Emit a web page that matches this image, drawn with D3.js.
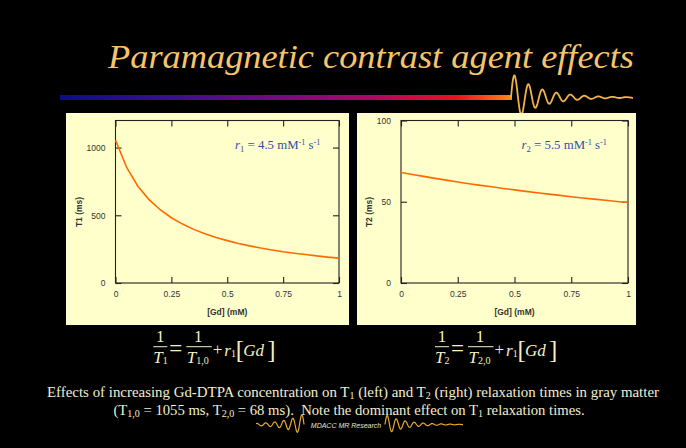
<!DOCTYPE html>
<html>
<head>
<meta charset="utf-8">
<script src="https://cdn.jsdelivr.net/npm/d3@7"></script>
<style>
html,body{margin:0;padding:0;background:#000;}
svg{display:block;}
</style>
</head>
<body>
<svg id="c" width="686" height="448"></svg>
<script>
// ---- data ----
const gdConc = [0,0.05,0.1,0.15,0.2,0.25,0.3,0.35,0.4,0.45,0.5,0.55,0.6,0.65,0.7,0.75,0.8,0.85,0.9,0.95,1.0];
const t1Values = [1055,853,715,616,541,482,435,396,364,336,313,292,274,258,244,231,220,210,200,191,184];
const t2Values = [68,66.8,65.6,64.4,63.3,62.2,61.1,60.1,59.2,58.2,57.3,56.4,55.5,54.7,53.9,53.1,52.3,51.6,50.9,50.2,49.5];
const xTicks = [0,0.25,0.5,0.75,1];
const xTickLabels = ["0","0.25","0.5","0.75","1"];
const t1Ticks = [0,500,1000];
const t2Ticks = [0,50,100];
const t1Domain = [0,1200];
const t2Domain = [0,100];

const svg = d3.select("#c");
svg.append("rect").attr("width",686).attr("height",448).attr("fill","#000");

// ---- title ----
svg.append("text").attr("x",108).attr("y",68)
  .attr("font-family","'Liberation Serif','Times New Roman',serif")
  .attr("font-style","italic").attr("font-size",34.5)
  .attr("fill","#f5c46c").attr("textLength",526).attr("lengthAdjust","spacingAndGlyphs")
  .text("Paramagnetic contrast agent effects");

// gradient bar
const defs = svg.append("defs");
const grad = defs.append("linearGradient").attr("id","bar").attr("x1","0").attr("x2","1");
[["0","#0c0c88"],["0.25","#3a0f8e"],["0.5","#7a0a80"],["0.7","#b00860"],["0.88","#ee1020"],["1","#ff8a10"]]
  .forEach(s=>grad.append("stop").attr("offset",s[0]).attr("stop-color",s[1]));
svg.append("rect").attr("x",60).attr("y",95).attr("width",452).attr("height",5).attr("fill","url(#bar)");

// decorative damped waves
function dampedWave(x0, len, base, amp, period, decay, mirror){
  const pts=[];
  for(let t=0;t<=len;t+=0.5){
    const a = amp*Math.exp(-decay*t);
    const y = base - a*Math.sin(2*Math.PI*t/period);
    pts.push([mirror ? x0 - t : x0 + t, y]);
  }
  return d3.line()(pts);
}
svg.append("path").attr("d",dampedWave(511,122,97.5,25,14,0.036,false))
  .attr("fill","none").attr("stroke","#f2b24a").attr("stroke-width",1.8);

// ---- panels ----
function panel(opt){
  const g = svg.append("g");
  g.append("rect").attr("x",opt.px).attr("y",113).attr("width",opt.pw).attr("height",212).attr("fill","#ffffcc");
  const x = d3.scaleLinear().domain([0,1]).range([opt.l,opt.r]);
  const y = d3.scaleLinear().domain(opt.domain).range([283,120.5]);
  const font = "'Liberation Sans',Arial,sans-serif";
  const ax = [
    g.append("g").attr("transform",`translate(0,283)`).call(d3.axisBottom(x).tickValues(xTicks).tickFormat((d,i)=>xTickLabels[i]).tickSize(-6).tickSizeOuter(0).tickPadding(8)),
    g.append("g").attr("transform",`translate(0,120.5)`).call(d3.axisTop(x).tickValues(xTicks).tickFormat("").tickSize(-6).tickSizeOuter(0)),
    g.append("g").attr("transform",`translate(${opt.l},0)`).call(d3.axisLeft(y).tickValues(opt.ticks).tickFormat(d3.format("d")).tickSize(-6).tickSizeOuter(0).tickPadding(10)),
    g.append("g").attr("transform",`translate(${opt.r},0)`).call(d3.axisRight(y).tickValues(opt.ticks).tickFormat("").tickSize(-6).tickSizeOuter(0))
  ];
  ax.forEach(a=>{
    a.select(".domain").remove();
    a.selectAll("line").attr("stroke","#222").attr("stroke-width",1.1);
    a.selectAll("text").attr("font-family",font).attr("font-size",8.5).attr("fill","#333");
  });
  g.append("rect").attr("x",opt.l).attr("y",120.5).attr("width",opt.r-opt.l).attr("height",283-120.5)
    .attr("fill","none").attr("stroke","#222").attr("stroke-width",1.1);
  g.append("path").datum(gdConc.map((c,i)=>[c,opt.values[i]]))
    .attr("d",d3.line().x(d=>x(d[0])).y(d=>y(d[1])))
    .attr("fill","none").attr("stroke","#ff6a00").attr("stroke-width",1.6);
  g.append("text").attr("x",(opt.l+opt.r)/2).attr("y",315).attr("text-anchor","middle")
    .attr("font-family",font).attr("font-weight","bold").attr("font-size",8.5).attr("fill","#333").text("[Gd] (mM)");
  g.append("text").attr("transform",`translate(${opt.yl},${212}) rotate(-90)`).attr("text-anchor","middle")
    .attr("font-family",font).attr("font-weight","bold").attr("font-size",8.5).attr("fill","#333").text(opt.ylabel);
  const t = g.append("text").attr("x",opt.ax).attr("y",149)
    .attr("font-family","'Liberation Serif','Times New Roman',serif").attr("font-size",12.8).attr("fill","#2f4fa8");
  t.append("tspan").attr("font-style","italic").text("r");
  t.append("tspan").attr("font-size",8.8).attr("dy",2.5).text(opt.sub);
  t.append("tspan").attr("dy",-2.5).text(" = " + opt.rate + " mM");
  t.append("tspan").attr("font-size",8.2).attr("dy",-4.5).text("-1");
  t.append("tspan").attr("dy",4.5).text(" s");
  t.append("tspan").attr("font-size",8.2).attr("dy",-4.5).text("-1");
}
panel({px:66,pw:283,l:115.5,r:339,domain:t1Domain,ticks:t1Ticks,values:t1Values,ylabel:"T1 (ms)",yl:81.5,ax:235,sub:"1",rate:"4.5"});
panel({px:357,pw:279,l:401,r:628,domain:t2Domain,ticks:t2Ticks,values:t2Values,ylabel:"T2 (ms)",yl:371.5,ax:521.5,sub:"2",rate:"5.5"});

// ---- formulas ----
function formula(x0, n, sub0){
  const serif = "'Liberation Serif','Times New Roman',serif";
  const col = "#f5efc2";
  const g = svg.append("g").attr("fill",col).attr("font-family",serif);
  const fs = 17;
  g.append("text").attr("x",x0+7).attr("y",342).attr("text-anchor","middle").attr("font-size",fs).text("1");
  g.append("rect").attr("x",x0).attr("y",346.2).attr("width",14).attr("height",1).attr("fill",col);
  let t = g.append("text").attr("x",x0).attr("y",362.5).attr("font-size",fs);
  t.append("tspan").attr("font-style","italic").text("T");
  t.append("tspan").attr("font-size",10).attr("dy",1.5).text(n);
  g.append("text").attr("x",x0+16).attr("y",355.5).attr("font-size",23).text("=");
  g.append("text").attr("x",x0+45).attr("y",342).attr("text-anchor","middle").attr("font-size",fs).text("1");
  g.append("rect").attr("x",x0+33).attr("y",346.2).attr("width",25.5).attr("height",1).attr("fill",col);
  t = g.append("text").attr("x",x0+33.5).attr("y",362.5).attr("font-size",fs);
  t.append("tspan").attr("font-style","italic").text("T");
  t.append("tspan").attr("font-size",10).attr("dy",1.5).text(sub0);
  g.append("text").attr("x",x0+59.5).attr("y",355).attr("font-size",fs).text("+");
  t = g.append("text").attr("x",x0+71).attr("y",355.5).attr("font-size",fs);
  t.append("tspan").attr("font-style","italic").text("r");
  t.append("tspan").attr("font-size",10).attr("dy",1.5).text("1");
  g.append("text").attr("x",x0+82.5).attr("y",357.5).attr("font-size",25).text("[");
  g.append("text").attr("x",x0+90).attr("y",355.5).attr("font-size",fs).attr("font-style","italic").text("Gd");
  g.append("text").attr("x",x0+114).attr("y",357.5).attr("font-size",25).text("]");
}
formula(153.3,"1","1,0");
formula(435,"2","2,0");

// ---- caption ----
const serif = "'Liberation Serif','Times New Roman',serif";
const cap = "#f2eed0";
let c1 = svg.append("text").attr("x",353).attr("y",396.5).attr("text-anchor","middle")
  .attr("font-family",serif).attr("font-size",14.9).attr("fill",cap);
c1.append("tspan").text("Effects of increasing Gd-DTPA concentration on T");
c1.append("tspan").attr("font-size",10).attr("dy",2.5).text("1");
c1.append("tspan").attr("dy",-2.5).text(" (left) and T");
c1.append("tspan").attr("font-size",10).attr("dy",2.5).text("2");
c1.append("tspan").attr("dy",-2.5).text(" (right) relaxation times in gray matter");

let c2 = svg.append("text").attr("x",349).attr("y",414.5).attr("text-anchor","middle")
  .attr("font-family",serif).attr("font-size",14.7).attr("fill",cap);
c2.append("tspan").text("(T");
c2.append("tspan").attr("font-size",10).attr("dy",2.5).text("1,0");
c2.append("tspan").attr("dy",-2.5).text(" = 1055 ms, T");
c2.append("tspan").attr("font-size",10).attr("dy",2.5).text("2,0");
c2.append("tspan").attr("dy",-2.5).text(" = 68 ms).\u00a0 Note the dominant effect on T");
c2.append("tspan").attr("font-size",10).attr("dy",2.5).text("1");
c2.append("tspan").attr("dy",-2.5).text(" relaxation times.");

svg.append("path").attr("d",dampedWave(304,48,424.5,11,9,0.05,true))
  .attr("fill","none").attr("stroke","#e8a830").attr("stroke-width",1.2);
svg.append("path").attr("d",dampedWave(385,78,424.5,10,9,0.05,false))
  .attr("fill","none").attr("stroke","#e8a830").attr("stroke-width",1.2);
svg.append("text").attr("x",346).attr("y",427.5).attr("text-anchor","middle")
  .attr("font-family","'Liberation Sans',Arial,sans-serif").attr("font-style","italic")
  .attr("font-size",7).attr("fill","#e8e4c8").text("MDACC MR Research");
</script>
</body>
</html>
